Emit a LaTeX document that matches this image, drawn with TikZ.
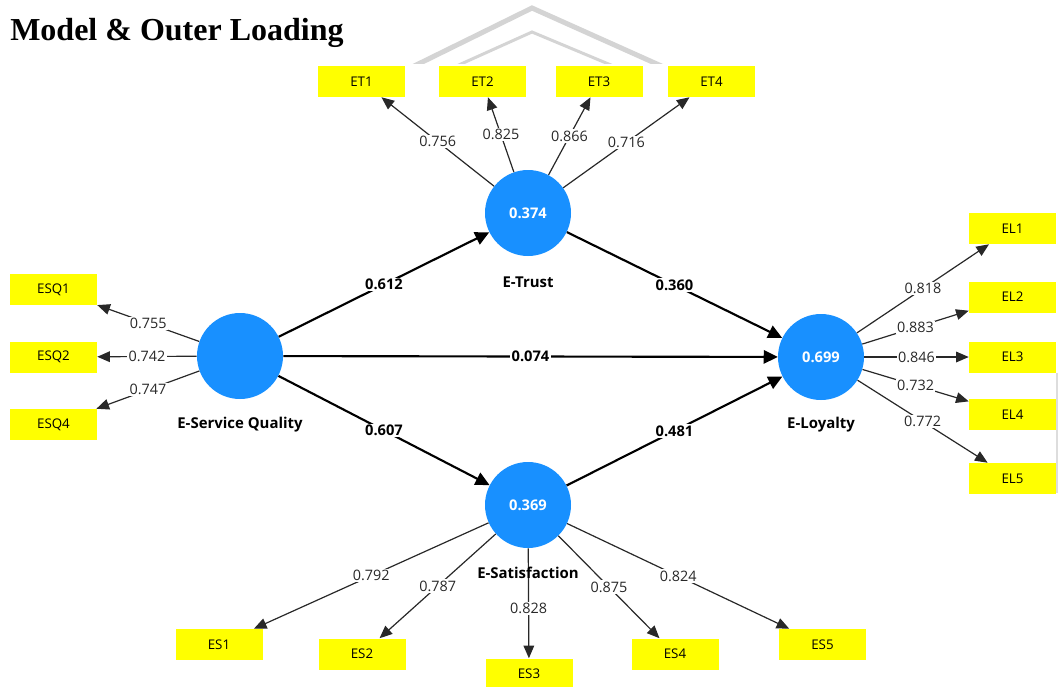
\documentclass[tikz,border=0pt]{standalone}
\usepackage{fontspec}
\setmainfont{Liberation Serif}
\newfontfamily\uisans{Open Sans}
\usetikzlibrary{arrows.meta}
\definecolor{lvblue}{RGB}{24,144,255}
\definecolor{indyellow}{RGB}{255,255,0}
\definecolor{loadgray}{RGB}{40,40,40}
\definecolor{chevgray}{RGB}{212,212,212}
\begin{document}
\begin{tikzpicture}[x=0.75pt,y=-0.75pt,
  latent/.style={circle,fill=lvblue,minimum size=64.5pt,inner sep=0pt,text=white,font=\uisans\bfseries\fontsize{11}{12}\selectfont},
  indicator/.style={rectangle,fill=indyellow,minimum width=65.25pt,minimum height=23.25pt,inner sep=0pt,font=\uisans\fontsize{10}{12}\selectfont},
  lvname/.style={font=\uisans\bfseries\fontsize{11.2}{13}\selectfont},
  loading/.style={draw=loadgray,line width=0.9pt,-{Triangle[length=9.5pt,width=8pt]}},
  loadlab/.style={fill=white,inner sep=1pt,text=loadgray,font=\uisans\fontsize{10.8}{12}\selectfont},
  structpath/.style={draw=black,line width=1.6pt,-{Triangle[length=10.5pt,width=10pt]}},
  pathlab/.style={fill=white,inner sep=1pt,font=\uisans\bfseries\fontsize{11}{12}\selectfont},
]
\useasboundingbox (0,0) rectangle (1059,686);
% background chevron
\begin{scope}
  \clip (0,0) rectangle (1059,63);
  \draw[chevgray,line width=3.75pt] (400,73) -- (532,8) -- (677,73);
  \draw[chevgray,line width=2.25pt] (441,73) -- (532,32) -- (630,73);
\end{scope}
\draw[chevgray!80,line width=1pt] (1057,373) -- (1057,493);
% title
\node[anchor=base west,inner sep=0pt,font=\bfseries\fontsize{24}{28}\selectfont] (title) at (10,40) {Model \& Outer Loading};
% latent variables
\node[latent] (ESQ) at (240,356) {};
\node[latent] (ET) at (528,213) {0.374};
\node[latent] (EL) at (821,357) {0.699};
\node[latent] (ES) at (528,505) {0.369};
\node[lvname] (ESQname) at (240,425) {E-Service Quality};
\node[lvname] (ETname) at (528,282) {E-Trust};
\node[lvname] (ELname) at (821,425) {E-Loyalty};
% indicators
\node[indicator] (ET1) at (361.5,81.5) {ET1};
\node[indicator] (ET2) at (482.5,81.5) {ET2};
\node[indicator] (ET3) at (599,81.5) {ET3};
\node[indicator] (ET4) at (711.5,81.5) {ET4};
\node[indicator] (ESQ1) at (53.5,289.5) {ESQ1};
\node[indicator] (ESQ2) at (53.5,357) {ESQ2};
\node[indicator] (ESQ4) at (53.5,424.5) {ESQ4};
\node[indicator] (EL1) at (1012.5,228.5) {EL1};
\node[indicator] (EL2) at (1012.5,297) {EL2};
\node[indicator] (EL3) at (1012.5,357) {EL3};
\node[indicator] (EL4) at (1012.5,414.5) {EL4};
\node[indicator] (EL5) at (1012.5,478.5) {EL5};
\node[indicator] (ES1) at (219,644.5) {ES1};
\node[indicator] (ES2) at (362,654) {ES2};
\node[indicator] (ES3) at (529,674) {ES3};
\node[indicator] (ES4) at (675,654) {ES4};
\node[indicator] (ES5) at (822.5,644.5) {ES5};
% outer loadings
\draw[loading] (ET) -- node[loadlab]{0.756} (ET1);
\draw[loading] (ET) -- node[loadlab]{0.825} (ET2);
\draw[loading] (ET) -- node[loadlab]{0.866} (ET3);
\draw[loading] (ET) -- node[loadlab]{0.716} (ET4);
\draw[loading] (ESQ) -- node[loadlab]{0.755} (ESQ1);
\draw[loading] (ESQ) -- node[loadlab]{0.742} (ESQ2);
\draw[loading] (ESQ) -- node[loadlab]{0.747} (ESQ4);
\draw[loading] (EL) -- node[loadlab]{0.818} (EL1);
\draw[loading] (EL) -- node[loadlab]{0.883} (EL2);
\draw[loading] (EL) -- node[loadlab]{0.846} (EL3);
\draw[loading] (EL) -- node[loadlab]{0.732} (EL4);
\draw[loading] (EL) -- node[loadlab]{0.772} (EL5);
\draw[loading] (ES) -- node[loadlab]{0.792} (ES1);
\draw[loading] (ES) -- node[loadlab]{0.787} (ES2);
\draw[loading] (ES) -- node[loadlab,pos=0.55]{0.828} (ES3);
\draw[loading] (ES) -- node[loadlab]{0.875} (ES4);
\draw[loading] (ES) -- node[loadlab]{0.824} (ES5);
\node[lvname] (ESname) at (528,573) {E-Satisfaction};
% structural paths
\draw[structpath] (ESQ) -- node[pathlab]{0.612} (ET);
\draw[structpath] (ET) -- node[pathlab]{0.360} (EL);
\draw[structpath] (ESQ) -- node[pathlab]{0.074} (EL);
\draw[structpath] (ESQ) -- node[pathlab]{0.607} (ES);
\draw[structpath] (ES) -- node[pathlab]{0.481} (EL);
\end{tikzpicture}
\end{document}
